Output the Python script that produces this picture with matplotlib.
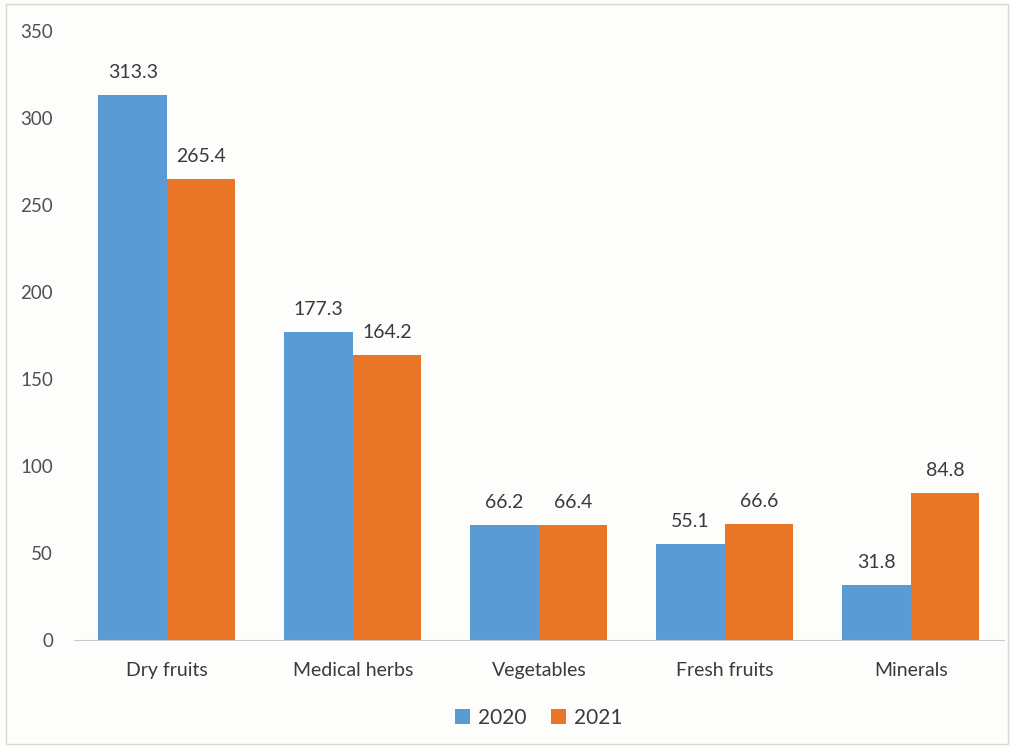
import matplotlib.pyplot as plt
import numpy as np
from matplotlib.patches import Rectangle

plt.rcParams['font.family'] = ['Lato', 'DejaVu Sans']

categories = ["Dry fruits", "Medical herbs", "Vegetables", "Fresh fruits", "Minerals"]
years = ["2020", "2021"]
vals_2020 = [313.3, 177.3, 66.2, 55.1, 31.8]
vals_2021 = [265.4, 164.2, 66.4, 66.6, 84.8]

blue = "#5b9bd5"
orange = "#e97526"
txt = "#3a3a3a"

fig = plt.figure(figsize=(10.12, 7.47), dpi=100)
fig.patch.set_facecolor("#fdfdfb")
ax = fig.add_axes([0.073, 0.143, 0.919, 0.815])
ax.set_facecolor("none")

x = np.arange(len(categories))
w = 0.368
b1 = ax.bar(x - w/2, vals_2020, w, color=blue, label=years[0])
b2 = ax.bar(x + w/2, vals_2021, w, color=orange, label=years[1])

for bars in (b1, b2):
    for r in bars:
        ax.text(r.get_x() + r.get_width()/2, r.get_height() + 8, f"{r.get_height():.1f}",
                ha="center", va="bottom", fontsize=14, color=txt)

ax.set_xlim(-0.5, len(categories) - 0.5)
ax.set_ylim(0, 350)
ax.set_yticks(range(0, 351, 50))
ax.set_xticks(x)
ax.set_xticklabels(categories, fontsize=14, color=txt)
ax.tick_params(axis="y", length=0, pad=15, labelsize=13.5, labelcolor="#505050")
ax.tick_params(axis="x", length=0, pad=16)
for s in ("top", "right", "left"):
    ax.spines[s].set_visible(False)
ax.spines["bottom"].set_color("#c8c8c8")

leg = ax.legend(loc="upper center", bbox_to_anchor=(0.5, -0.08), ncol=2, frameon=False,
                fontsize=15, handlelength=0.7, handleheight=0.7, handletextpad=0.4,
                columnspacing=1.2)
for t in leg.get_texts():
    t.set_color(txt)

fig.patches.append(Rectangle((0.006, 0.004), 0.99, 0.99, transform=fig.transFigure,
                             fill=False, edgecolor="#d8d8d0", lw=1))

fig.savefig("out.png", dpi=100, facecolor=fig.get_facecolor())
